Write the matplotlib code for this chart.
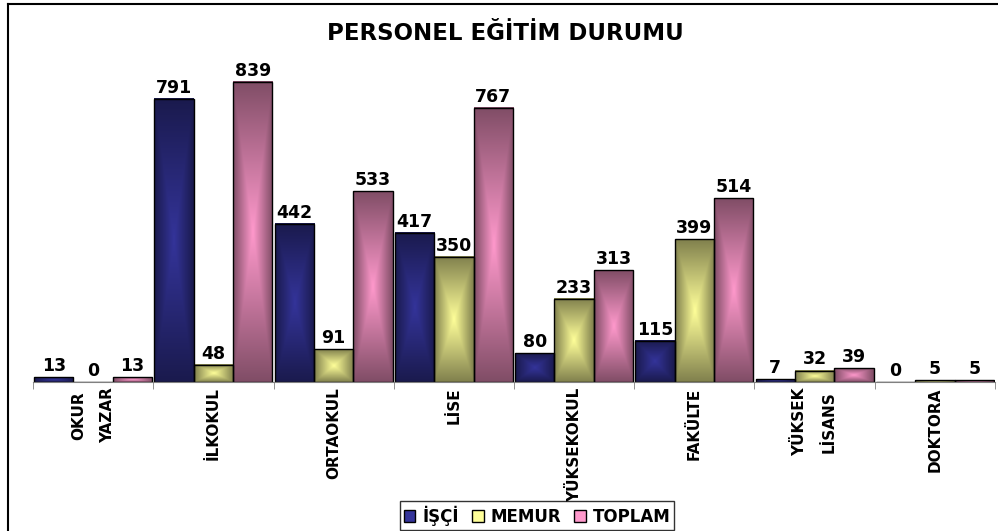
import numpy as np
import matplotlib.pyplot as plt
from matplotlib.patches import Patch
from matplotlib.lines import Line2D
from matplotlib.colors import to_rgb

categories = ["OKUR\nYAZAR", "İLKOKUL", "ORTAOKUL", "LİSE", "YÜKSEKOKUL",
              "FAKÜLTE", "YÜKSEK\nLİSANS", "DOKTORA"]
isci = [13, 791, 442, 417, 80, 115, 7, 0]
memur = [0, 48, 91, 350, 233, 399, 32, 5]
toplam = [13, 839, 533, 767, 313, 514, 39, 5]
series_names = ["İŞÇİ", "MEMUR", "TOPLAM"]

mid_colors = ["#34349a", "#ffff99", "#ff99cc"]
edge_colors = ["#1a1a4d", "#80804d", "#804d66"]


def gradient_fill(ax, bar, c_mid, c_edge):
    x, y = bar.get_x(), bar.get_y()
    w, h = bar.get_width(), bar.get_height()
    if h <= 0:
        return
    c_mid = np.array(to_rgb(c_mid))
    c_edge = np.array(to_rgb(c_edge))
    u = np.abs(np.linspace(-1, 1, 60))
    v = np.abs(np.linspace(-1, 1, 240))
    t = np.maximum(u[None, :], v[:, None])
    img = c_mid + (c_edge - c_mid) * t[..., None]
    ax.imshow(img, extent=(x, x + w, y, y + h), aspect="auto",
              origin="lower", zorder=1, interpolation="bilinear")


fig = plt.figure(figsize=(9.98, 5.31), dpi=100)
ax = fig.add_axes([33 / 998, 149 / 531, 962 / 998, 322 / 531])

x = np.arange(len(categories))
width = 0.327
for i, vals in enumerate([isci, memur, toplam]):
    bars = ax.bar(x + (i - 1) * width, vals, width, facecolor="none",
                  edgecolor="black", linewidth=1, zorder=2)
    for b, v in zip(bars, vals):
        gradient_fill(ax, b, mid_colors[i], edge_colors[i])
        ax.annotate(str(v), (b.get_x() + b.get_width() / 2, v),
                    xytext=(0, 1.5), textcoords="offset points",
                    ha="center", va="bottom", fontsize=12.5,
                    fontweight="bold")

ax.set_xlim(-0.5, len(categories) - 0.5)
ax.set_ylim(0, 900)
ax.set_xticks(x)
ax.set_xticklabels(categories, rotation=90, fontsize=11, fontweight="bold",
                   multialignment="center", linespacing=2.2)
ax.set_xticks(np.arange(-0.5, len(categories)), minor=True)
ax.tick_params(axis="x", which="major", length=0, pad=4)
ax.tick_params(axis="x", which="minor", length=5, color="#808080")
ax.set_yticks([])
for s in ["left", "right", "top"]:
    ax.spines[s].set_visible(False)
ax.spines["bottom"].set_color("#808080")

fig.text(505 / 998, 1 - 33 / 531, "PERSONEL EĞİTİM DURUMU", ha="center",
         va="center", fontsize=16.5, fontweight="bold")

handles = [Patch(facecolor=c, edgecolor="black", linewidth=1)
           for c in mid_colors]
leg = fig.legend(handles, series_names, loc="center",
                 bbox_to_anchor=(537 / 998, 15.5 / 531), ncol=3,
                 prop={"weight": "bold", "size": 12}, frameon=True,
                 fancybox=False, handlelength=0.7, handleheight=0.7,
                 handletextpad=0.4, columnspacing=0.8, borderpad=0.25,
                 borderaxespad=0)
leg.get_frame().set_edgecolor("black")
leg.get_frame().set_linewidth(1)

lx = 8 / 998
ty = 1 - 4 / 531
fig.add_artist(Line2D([lx, lx], [0, ty], color="black", linewidth=1.5,
                      transform=fig.transFigure))
fig.add_artist(Line2D([lx, 1], [ty, ty], color="black", linewidth=1.5,
                      transform=fig.transFigure))

fig.savefig("out.png", dpi=100)
